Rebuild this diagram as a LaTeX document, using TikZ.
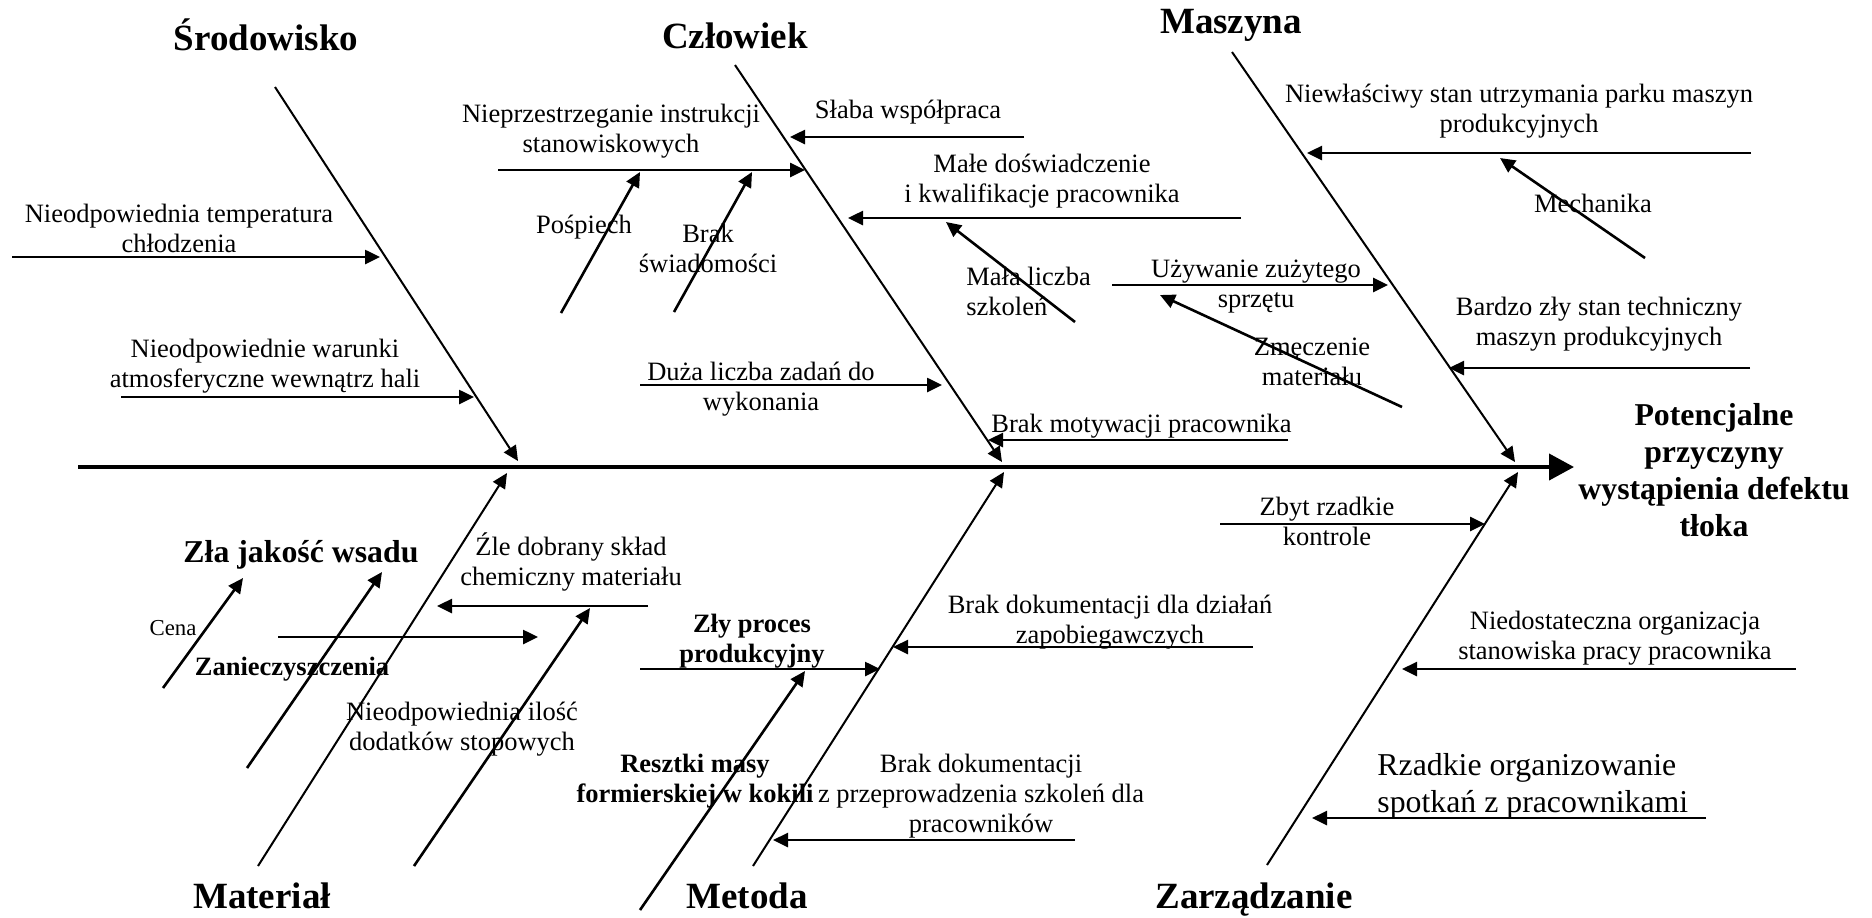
\documentclass[tikz,border=0pt]{standalone}
\usepackage{fontspec}
\setmainfont{Liberation Serif}
\usetikzlibrary{arrows.meta,positioning}

\begin{document}
\begin{tikzpicture}[x=0.5pt, y=-0.5pt, >={Triangle[length=7.5pt,width=7pt]}]
\tikzset{%
  head/.style = {%
    font = \fontsize{18.5}{22}\selectfont\bfseries,
    anchor = base,
    inner sep = 0pt},
  cause/.style = {%
    font = \fontsize{13.25}{15}\selectfont,
    align = center,
    anchor = base,
    inner sep = 0pt},
  causebf/.style = {cause, font = \fontsize{13.25}{15}\selectfont\bfseries},
  big/.style = {cause, font = \fontsize{15.9}{18.5}\selectfont},
  bigbf/.style = {cause, font = \fontsize{15.9}{18.5}\selectfont\bfseries},
  bone/.style = {line width = 1pt, ->},
  branch/.style = {line width = 1.3pt, ->},
  spine/.style = {line width = 2pt, -{Triangle[length=12.5pt,width=13pt]}}
}
  \useasboundingbox (0,0) rectangle (1872,917);

  \coordinate (spL) at (78,467);
  \coordinate (spR) at (1574,467);
  \draw[spine] (spL) -- (spR);
  \node[bigbf] (effect) at (1714,536)
    {Potencjalne\\przyczyny\\wystąpienia defektu\\tłoka};

  \coordinate (envA) at (275,87);   \coordinate (envB) at (518,461);
  \coordinate (manA) at (735,65);   \coordinate (manB) at (1002,462);
  \coordinate (macA) at (1232,52);  \coordinate (macB) at (1515,462);
  \coordinate (matA) at (258,866);  \coordinate (matB) at (507,473);
  \coordinate (metA) at (753,866);  \coordinate (metB) at (1004,472);
  \coordinate (mgtA) at (1267,865); \coordinate (mgtB) at (1518,472);

  \node[head] (env) at (266,50) {Środowisko};
  \node[head] (man) at (735,48) {Człowiek};
  \node[head] (mac) at (1231,33) {Maszyna};
  \node[head] (mat) at (262,908) {Materiał};
  \node[head] (met) at (747,908) {Metoda};
  \node[head] (mgt) at (1254,908) {Zarządzanie};

  % Srodowisko
  \coordinate (tmpA) at (12,257);   \coordinate (tmpB) at (380,257);
  \node[cause] (tmp) at (179,252) {Nieodpowiednia temperatura\\chłodzenia};
  \coordinate (atmA) at (121,397);  \coordinate (atmB) at (474,397);
  \node[cause] (atm) at (265,387)
    {Nieodpowiednie warunki\\atmosferyczne wewnątrz hali};

  % Czlowiek
  \coordinate (insA) at (498,170);  \coordinate (insB) at (805,170);
  \node[cause] (ins) at (611,152) {Nieprzestrzeganie instrukcji\\stanowiskowych};
  \coordinate (hurA) at (561,313);  \coordinate (hurB) at (640,172);
  \node[cause] (hur) at (584,233) {Pośpiech};
  \coordinate (awaA) at (674,312);  \coordinate (awaB) at (752,172);
  \node[cause] (awa) at (708,272) {Brak\\świadomości};
  \coordinate (coopA) at (1024,137); \coordinate (coopB) at (790,137);
  \node[cause] (coop) at (908,118) {Słaba współpraca};
  \coordinate (expA) at (1241,218); \coordinate (expB) at (848,218);
  \node[cause] (exp) at (1042,202) {Małe doświadczenie\\i kwalifikacje pracownika};
  \coordinate (trnA) at (1075,322); \coordinate (trnB) at (946,222);
  \node[cause, align=left, anchor=base west] (trn) at (966,315)
    {Mała liczba\\szkoleń};
  \coordinate (taskA) at (640,385); \coordinate (taskB) at (942,385);
  \node[cause] (task) at (761,410) {Duża liczba zadań do\\wykonania};
  \coordinate (motA) at (1288,440); \coordinate (motB) at (988,440);
  \node[cause, anchor=base west] (mot) at (991,432) {Brak motywacji pracownika};

  % Maszyna
  \coordinate (parkA) at (1751,153); \coordinate (parkB) at (1307,153);
  \node[cause] (park) at (1519,132)
    {Niewłaściwy stan utrzymania parku maszyn\\produkcyjnych};
  \coordinate (mechA) at (1645,258); \coordinate (mechB) at (1500,158);
  \node[cause] (mech) at (1593,212) {Mechanika};
  \coordinate (wornA) at (1112,285); \coordinate (wornB) at (1388,285);
  \node[cause] (worn) at (1256,307) {Używanie zużytego\\sprzętu};
  \coordinate (fatA) at (1402,407); \coordinate (fatB) at (1160,295);
  \node[cause] (fat) at (1312,385) {Zmęczenie\\materiału};
  \coordinate (techA) at (1750,368); \coordinate (techB) at (1449,368);
  \node[cause] (tech) at (1599,345)
    {Bardzo zły stan techniczny\\maszyn produkcyjnych};

  % Material
  \node[bigbf] (charge) at (301,562) {Zła jakość wsadu};
  \coordinate (priceA) at (163,688); \coordinate (priceB) at (243,578);
  \node[cause, font=\fontsize{11.4}{13}\selectfont] (price) at (173,635) {Cena};
  \coordinate (dirtA) at (247,768); \coordinate (dirtB) at (382,572);
  \node[causebf] (dirt) at (292,675) {Zanieczyszczenia};
  \coordinate (strayA) at (278,637); \coordinate (strayB) at (538,637);
  \coordinate (chemA) at (648,606); \coordinate (chemB) at (437,606);
  \node[cause] (chem) at (571,585) {Źle dobrany skład\\chemiczny materiału};
  \coordinate (alloyA) at (414,866); \coordinate (alloyB) at (590,608);
  \node[cause] (alloy) at (462,750) {Nieodpowiednia ilość\\dodatków stopowych};

  % Metoda
  \coordinate (procA) at (640,669); \coordinate (procB) at (880,669);
  \node[causebf] (proc) at (752,662) {Zły proces\\produkcyjny};
  \coordinate (sandA) at (640,910); \coordinate (sandB) at (805,671);
  \node[causebf] (sand) at (695,802) {Resztki masy\\formierskiej w kokili};
  \coordinate (docA) at (1253,647); \coordinate (docB) at (893,647);
  \node[cause] (doc) at (1110,643)
    {Brak dokumentacji dla działań\\zapobiegawczych};
  \coordinate (trdA) at (1075,840); \coordinate (trdB) at (773,840);
  \node[cause] (trd) at (981,832)
    {Brak dokumentacji\\z przeprowadzenia szkoleń dla\\pracowników};

  % Zarzadzanie
  \coordinate (ctrlA) at (1220,524); \coordinate (ctrlB) at (1485,524);
  \node[cause] (ctrl) at (1327,545) {Zbyt rzadkie\\kontrole};
  \coordinate (orgA) at (1796,669); \coordinate (orgB) at (1402,669);
  \node[cause] (org) at (1615,659)
    {Niedostateczna organizacja\\stanowiska pracy pracownika};
  \coordinate (meetA) at (1706,818); \coordinate (meetB) at (1312,818);
  \node[big, align=left, anchor=base west] (meet) at (1377,812)
    {Rzadkie organizowanie\\spotkań z pracownikami};

  \foreach \bn in {env,man,mac,mat,met,mgt}
    \draw[bone] (\bn A) -- (\bn B);
  \foreach \br in {tmp,atm,ins,hur,awa,coop,exp,trn,task,mot,park,mech,worn,
                   fat,tech,price,dirt,stray,chem,alloy,proc,sand,doc,trd,
                   ctrl,org,meet}
    \draw[branch] (\br A) -- (\br B);
\end{tikzpicture}
\end{document}
